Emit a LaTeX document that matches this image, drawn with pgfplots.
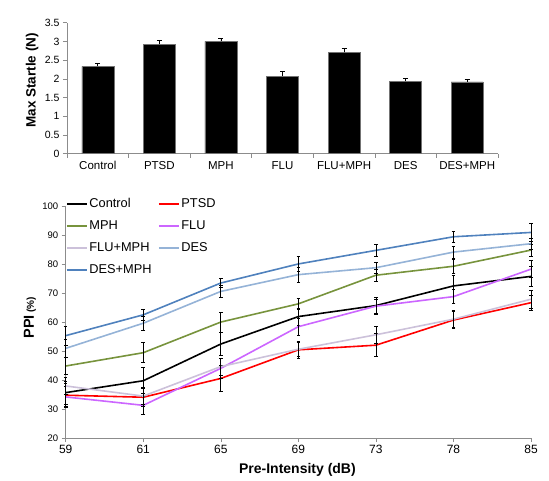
\documentclass[border=0pt]{standalone}
\usepackage{pgfplots}
\pgfplotsset{compat=1.18}
\usepackage{pgfplotstable}
\usepackage{fontspec}
\setmainfont{Liberation Sans}
\definecolor{cCtl}{HTML}{000000}
\definecolor{cPTSD}{HTML}{FF0000}
\definecolor{cMPH}{HTML}{77933C}
\definecolor{cFLU}{HTML}{CC66FF}
\definecolor{cFM}{HTML}{CCC1DA}
\definecolor{cDES}{HTML}{95B3D7}
\definecolor{cDM}{HTML}{4F81BD}

\pgfplotstableread{
x y e
0 2.33 0.08
1 2.92 0.10
2 3.00 0.08
3 2.07 0.12
4 2.71 0.09
5 1.94 0.08
6 1.92 0.07
}\bars

\pgfplotstableread{
x ctl ectl ptsd eptsd mph emph flu eflu fm efm des edes dm edm
0 35.7 4.0 34.8 4.0 44.9 3.0 34.2 3.5 38.0 3.0 51.0 3.0 55.4 3.3
1 39.8 4.5 34.1 3.0 49.5 3.5 31.3 3.0 34.5 3.0 59.7 2.3 62.6 1.9
2 52.5 4.0 40.6 4.5 60.1 3.5 44.1 3.5 44.7 3.0 70.7 2.0 73.6 1.5
3 62.0 3.0 50.5 3.0 66.4 2.0 58.5 3.0 50.7 2.5 76.5 2.5 80.2 2.5
4 65.8 3.0 52.1 4.0 76.3 2.0 65.6 2.5 55.7 3.0 78.9 2.0 84.9 2.0
5 72.6 3.5 60.8 3.0 79.4 2.5 68.9 2.5 61.1 3.0 84.3 2.0 89.6 2.0
6 75.9 3.5 66.8 2.5 85.0 2.0 78.4 3.0 68.0 3.0 87.2 2.0 91.1 3.0
}\ppi

\pgfplotsset{
  myaxis/.style={
    scale only axis, anchor=south west,
    axis x line*=bottom, axis y line*=left,
    axis line style={-, black!45, line width=0.6pt},
    tick align=outside, tick style={black!45, line width=0.6pt},
    major tick length=4pt, minor tick length=4pt,
    /pgf/number format/assume math mode=true,
    clip=false,
  },
  lineplot/.style={line width=1.6pt,
    /pgfplots/error bars/y dir=both, /pgfplots/error bars/y explicit,
    /pgfplots/error bars/error bar style={black, line width=0.7pt},
    /pgfplots/error bars/error mark options={black, line width=0.7pt, mark size=1.8pt, rotate=90}},
}

\begin{document}
\begin{tikzpicture}
\useasboundingbox (0,0) rectangle (549pt,480pt);
% top bar chart
\begin{axis}[myaxis,
  at={(67pt,326.3pt)}, width=431pt, height=131pt,
  xmin=-0.5, xmax=6.5, ymin=0, ymax=3.5,
  xtick={0,...,6},
  xticklabels={Control,PTSD,MPH,FLU,FLU+MPH,DES,DES+MPH},
  major x tick style={draw=none},
  minor xtick={-0.5,0.5,1.5,2.5,3.5,4.5,5.5,6.5},
  ytick={0,0.5,...,3.5},
  yticklabel style={/pgf/number format/fixed, /pgf/number format/precision=1, font=\fontsize{10.5}{12}\selectfont},
  xticklabel style={font=\fontsize{11.5}{13}\selectfont},
  ylabel={\textbf{Max Startle (N)}},
  ylabel style={at={(axis description cs:-0.081,0.56)}, anchor=center, font=\fontsize{13.5}{15}\selectfont},
]
\addplot[ybar, bar width=0.52, fill=black, draw=black!55,
  error bars/.cd, y dir=plus, y explicit,
  error bar style={black, line width=0.8pt},
  error mark options={black, line width=0.8pt, mark size=2.5pt, rotate=90}]
  table[x=x, y=y, y error=e] {\bars};
\end{axis}
% bottom line chart
\begin{axis}[myaxis,
  at={(65.7pt,42pt)}, width=465.3pt, height=231.3pt,
  xmin=0, xmax=6, ymin=20, ymax=100,
  xtick={0,...,6}, xticklabels={59,61,65,69,73,78,85},
  ytick={20,30,...,100},
  yticklabel style={font=\fontsize{9.5}{11}\selectfont},
  xticklabel style={font=\fontsize{12}{14}\selectfont},
  xlabel={\textbf{Pre-Intensity (dB)}},
  xlabel style={at={(axis description cs:0.498,-0.138)}, anchor=center, font=\fontsize{14}{16}\selectfont},
  ylabel={{\fontsize{14.5}{16}\selectfont\bfseries PPI} {\fontsize{10}{12}\selectfont\bfseries (\%)}},
  ylabel style={at={(axis description cs:-0.077,0.52)}, anchor=center},
  legend columns=2,
  legend cell align=left,
  legend style={at={(axis description cs:0.0,1.043)}, anchor=north west,
    draw=none, fill=none, font=\fontsize{12.8}{14}\selectfont,
    row sep=8.5pt, inner sep=0pt,
    nodes={text width=67pt, align=left, inner sep=1.5pt}},
  legend image code/.code={\draw[line width=2pt] (0pt,0pt) -- (20pt,0pt);},
]
\addplot[color=cCtl, lineplot] table[x=x, y=ctl, y error=ectl] {\ppi};
\addlegendentry{Control}
\addplot[color=cPTSD, lineplot] table[x=x, y=ptsd, y error=eptsd] {\ppi};
\addlegendentry{PTSD}
\addplot[color=cMPH, lineplot] table[x=x, y=mph, y error=emph] {\ppi};
\addlegendentry{MPH}
\addplot[color=cFLU, lineplot] table[x=x, y=flu, y error=eflu] {\ppi};
\addlegendentry{FLU}
\addplot[color=cFM, lineplot] table[x=x, y=fm, y error=efm] {\ppi};
\addlegendentry{FLU+MPH}
\addplot[color=cDES, lineplot] table[x=x, y=des, y error=edes] {\ppi};
\addlegendentry{DES}
\addplot[color=cDM, lineplot] table[x=x, y=dm, y error=edm] {\ppi};
\addlegendentry{DES+MPH}
\end{axis}
\end{tikzpicture}
\end{document}
